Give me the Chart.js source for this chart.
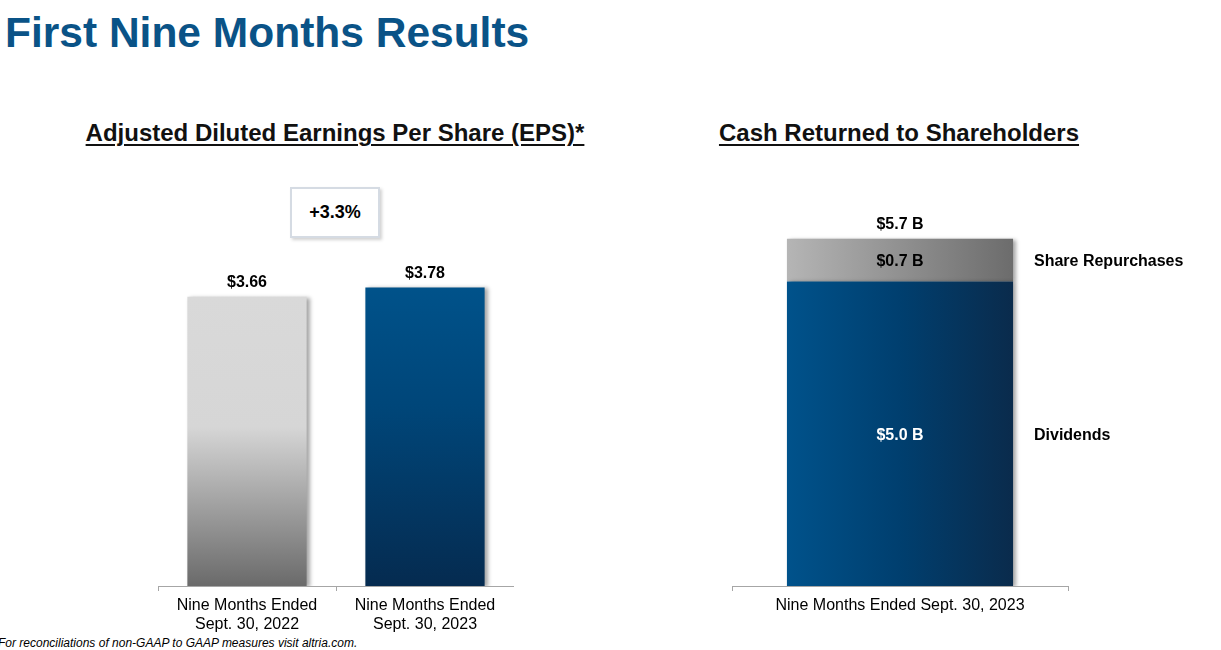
<!DOCTYPE html>
<html>
<head>
<meta charset="utf-8">
<script src="https://cdn.jsdelivr.net/npm/chart.js@4.4.0/dist/chart.umd.min.js"></script>
<style>
  body { margin: 0; width: 1221px; height: 650px; background: #fff; position: relative; overflow: hidden;
         font-family: "Liberation Sans", Arial, sans-serif; }
  .abs { position: absolute; white-space: nowrap; }
  #title { left: 5px; top: 7px; font-size: 42.5px; line-height: 52px; font-weight: bold; color: #0a5387; }
  .sub { top: 119px; font-size: 24px; line-height: 28px; font-weight: bold; color: #111; text-decoration: underline;
         text-underline-offset: 3px; text-decoration-thickness: 2px; transform: translateX(-50%); }
  #change { left: 290px; top: 187px; width: 90px; height: 51px; box-sizing: border-box; border: 2px solid #d5dbe3;
            box-shadow: 2px 2px 3px rgba(0,0,0,0.18); font-size: 18px; font-weight: bold; text-align: center;
            line-height: 47px; color: #000; background: #fff; }
  #note { left: -2px; top: 635px; font-size: 12px; line-height: 16px; font-style: italic; color: #000; }
  canvas { position: absolute; }
</style>
</head>
<body>
<div id="title" class="abs">First Nine Months Results</div>
<div class="abs sub" style="left:335px">Adjusted Diluted Earnings Per Share (EPS)*</div>
<div class="abs sub" style="left:899px">Cash Returned to Shareholders</div>
<div id="change" class="abs"></div>
<div id="note" class="abs">For reconciliations of non-GAAP to GAAP measures visit altria.com.</div>

<canvas id="epsChart" width="356" height="445" style="left:158px; top:191px"></canvas>
<canvas id="cashChart" width="489" height="446" style="left:732px; top:190px"></canvas>

<script>
// data
const epsLabels = [['Nine Months Ended', 'Sept. 30, 2022'], ['Nine Months Ended', 'Sept. 30, 2023']];
const epsValues = [3.66, 3.78];
const epsText = ['$3.66', '$3.78'];
const epsChange = '+3.3%';

const cashLabels = ['Nine Months Ended Sept. 30, 2023'];
const dividends = [5.0];
const repurchases = [0.7];
const cashSeries = ['Dividends', 'Share Repurchases'];

const FONT = '"Liberation Sans", Arial, sans-serif';
document.getElementById('change').textContent = epsChange;

// soft drop shadow on the bars
const shadowPlugin = {
    id: 'barShadow',
    beforeDatasetsDraw(chart) {
        const c = chart.ctx;
        c.save();
        c.shadowColor = 'rgba(0,0,0,0.35)';
        c.shadowBlur = 4;
        c.shadowOffsetX = 3;
        c.shadowOffsetY = 1;
    },
    afterDatasetsDraw(chart) {
        chart.ctx.restore();
    }
};

function xAxis() {
    return {
        grid: { display: true, drawOnChartArea: false, drawTicks: true, tickLength: 5, color: '#a6a6a6' },
        border: { color: '#a6a6a6', width: 1 },
        ticks: { color: '#000', font: { family: FONT, size: 16 }, padding: 5, maxRotation: 0, autoSkip: false },
        afterFit(scale) { scale.height = 50; }
    };
}

// ---- EPS chart ----
function epsFill(ctx) {
    const chart = ctx.chart;
    const area = chart.chartArea;
    if (!area) return '#cccccc';
    const top = chart.scales.y.getPixelForValue(ctx.raw);
    const g = chart.ctx.createLinearGradient(0, top, 0, area.bottom);
    if (ctx.dataIndex === 0) {
        g.addColorStop(0, '#d9d9d9');
        g.addColorStop(0.45, '#d6d6d6');
        g.addColorStop(1, '#6a6a6a');
    } else {
        g.addColorStop(0, '#00528a');
        g.addColorStop(0.4, '#004679');
        g.addColorStop(1, '#052b50');
    }
    return g;
}

const epsLabelPlugin = {
    id: 'epsLabels',
    afterDatasetsDraw(chart) {
        const c = chart.ctx;
        const meta = chart.getDatasetMeta(0);
        c.save();
        c.font = 'bold 16px ' + FONT;
        c.fillStyle = '#000';
        c.textAlign = 'center';
        c.textBaseline = 'middle';
        meta.data.forEach((bar, i) => {
            c.fillText(epsText[i], bar.x, bar.y - 14);
        });
        c.restore();
    }
};

new Chart(document.getElementById('epsChart'), {
    type: 'bar',
    data: {
        labels: epsLabels,
        datasets: [{ data: epsValues, backgroundColor: epsFill, barPercentage: 0.67, categoryPercentage: 1 }]
    },
    options: {
        responsive: false,
        animation: false,
        layout: { padding: 0 },
        plugins: { legend: { display: false }, tooltip: { enabled: false } },
        scales: {
            x: xAxis(),
            y: { display: false, min: 0, max: 5 }
        }
    },
    plugins: [shadowPlugin, epsLabelPlugin]
});

// ---- Cash returned chart ----
function barSpan(chart, ds) {
    const area = chart.chartArea;
    const w = area.width / cashLabels.length * ds.barPercentage;
    const cx = chart.scales.x.getPixelForValue(0);
    return [cx - w / 2, cx + w / 2];
}

function cashFill(ctx) {
    const chart = ctx.chart;
    if (!chart.chartArea) return '#004a80';
    const [l, r] = barSpan(chart, ctx.dataset);
    const g = chart.ctx.createLinearGradient(l, 0, r, 0);
    if (ctx.datasetIndex === 0) {
        g.addColorStop(0, '#00528b');
        g.addColorStop(0.5, '#003f6f');
        g.addColorStop(1, '#0a2b4c');
    } else {
        g.addColorStop(0, '#b5b5b5');
        g.addColorStop(1, '#6c6c6c');
    }
    return g;
}

const cashLabelPlugin = {
    id: 'cashLabels',
    afterDatasetsDraw(chart) {
        const c = chart.ctx;
        const area = chart.chartArea;
        c.save();
        c.textBaseline = 'middle';
        const values = [dividends, repurchases];
        let topY = area.bottom;
        values.forEach((vals, d) => {
            const bar = chart.getDatasetMeta(d).data[0];
            const mid = (bar.y + bar.base) / 2 + 2;
            topY = Math.min(topY, bar.y);
            c.font = 'bold 16px ' + FONT;
            c.textAlign = 'center';
            c.fillStyle = d === 0 ? '#fff' : '#000';
            c.fillText('$' + vals[0].toFixed(1) + ' B', bar.x, mid);
            c.textAlign = 'left';
            c.fillStyle = '#000';
            c.fillText(cashSeries[d], 302, mid);
        });
        const total = dividends[0] + repurchases[0];
        c.textAlign = 'center';
        c.fillStyle = '#000';
        c.fillText('$' + total.toFixed(1) + ' B', chart.scales.x.getPixelForValue(0), topY - 14);
        c.restore();
    }
};

new Chart(document.getElementById('cashChart'), {
    type: 'bar',
    data: {
        labels: cashLabels,
        datasets: [
            { label: cashSeries[0], data: dividends, backgroundColor: cashFill, barPercentage: 0.673, categoryPercentage: 1 },
            { label: cashSeries[1], data: repurchases, backgroundColor: cashFill, barPercentage: 0.673, categoryPercentage: 1 }
        ]
    },
    options: {
        responsive: false,
        animation: false,
        layout: { padding: { left: 0, right: 153, top: 0, bottom: 0 } },
        plugins: { legend: { display: false }, tooltip: { enabled: false } },
        scales: {
            x: Object.assign(xAxis(), { stacked: true }),
            y: { display: false, stacked: true, min: 0, max: 6.5 }
        }
    },
    plugins: [shadowPlugin, cashLabelPlugin]
});
</script>
</body>
</html>
